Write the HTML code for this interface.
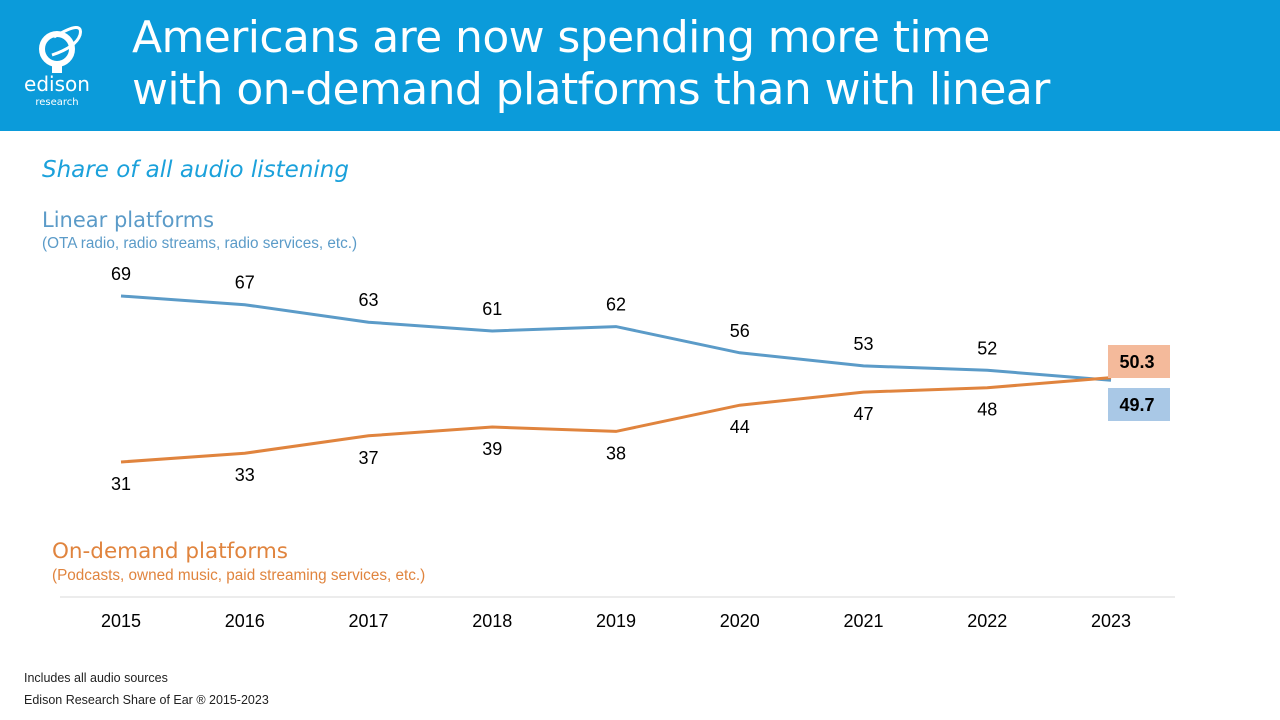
<!DOCTYPE html>
<html><head><meta charset="utf-8"><style>
body{margin:0;width:1280px;height:720px;background:#fff;font-family:"Liberation Sans",sans-serif;overflow:hidden;position:relative}
.hdr{position:absolute;left:0;top:0;width:1280px;height:131px;background:#0B9BDA}
.title{position:absolute;left:132px;top:12px;color:#fff;font-size:44px;line-height:52px;font-family:"DejaVu Sans","Liberation Sans",sans-serif;letter-spacing:-0.6px}
.t{position:absolute;white-space:nowrap}
</style></head><body>
<div class="hdr">
<svg style="position:absolute;left:22px;top:25px" width="80" height="85" viewBox="0 0 80 85">
<circle cx="35" cy="24" r="15" fill="none" stroke="#fff" stroke-width="6"/>
<path d="M32 12 Q62 -6 58 10 Q54 22 30 30" fill="none" stroke="#fff" stroke-width="3"/>
<rect x="30" y="40" width="10" height="8" fill="#fff"/>
<text x="35" y="66" fill="#fff" font-size="20" text-anchor="middle" font-family="DejaVu Sans,sans-serif">edison</text>
<text x="35" y="80" fill="#fff" font-size="10" text-anchor="middle" font-family="DejaVu Sans,sans-serif">research</text>
</svg>
<div class="title">Americans are now spending more time<br>with on-demand platforms than with linear</div>
</div>
<div class="t" style="left:42px;top:157px;font-size:23px;font-style:italic;color:#1BA1DB;font-family:'DejaVu Sans',sans-serif">Share of all audio listening</div>
<div class="t" style="left:42px;top:208px;font-size:21px;color:#5B9BC8;font-family:'DejaVu Sans',sans-serif">Linear platforms</div>
<div class="t" style="left:42px;top:235px;font-size:15.3px;color:#5B9BC8">(OTA radio, radio streams, radio services, etc.)</div>
<div class="t" style="left:52px;top:539px;font-size:21.5px;color:#E0843E;font-family:'DejaVu Sans',sans-serif">On-demand platforms</div>
<div class="t" style="left:52px;top:567px;font-size:15.3px;color:#E0843E">(Podcasts, owned music, paid streaming services, etc.)</div>
<div class="t" style="left:24px;top:671px;font-size:12.5px;color:#222">Includes all audio sources</div>
<div class="t" style="left:24px;top:693px;font-size:12.5px;color:#222">Edison Research Share of Ear ® 2015-2023</div>
<svg id="chart" style="position:absolute;left:0;top:0" width="1280" height="720"></svg>
<script>
const years=["2015","2016","2017","2018","2019","2020","2021","2022","2023"];
const linear=[69,67,63,61,62,56,53,52,49.7];
const ondemand=[31,33,37,39,38,44,47,48,50.3];
const svg=document.getElementById('chart');const NS='http://www.w3.org/2000/svg';
const x=i=>121+i*123.75;const y=v=>296+(69-v)*4.368;
function el(t,a,p){const e=document.createElementNS(NS,t);for(const k in a)e.setAttribute(k,a[k]);(p||svg).appendChild(e);return e;}
const ax=el('line',{x1:60,x2:1175,y1:597,y2:597,stroke:'#d9d9d9','stroke-width':1});


years.forEach((yr,i)=>{const t=el('text',{x:x(i),y:627,'text-anchor':'middle','font-size':18,fill:'#000','font-family':'Liberation Sans'});t.textContent=yr;

});
function series(vals,color,name,off){
const p=el('polyline',{points:vals.map((v,i)=>x(i)+','+y(v)).join(' '),fill:'none',stroke:color,'stroke-width':3});


vals.forEach((v,i)=>{if(i==vals.length-1)return;const t=el('text',{x:x(i),y:y(v)+off,'text-anchor':'middle','font-size':18,fill:'#000','font-family':'Liberation Sans'});t.textContent=v;

});}
series(linear,'#5B9BC8','linear',-16);
series(ondemand,'#E0843E','ondemand',28);
function box(v,yy,fill,name){const r=el('rect',{x:1108,y:yy,width:62,height:33,fill:fill});


const t=el('text',{x:1137,y:yy+23,'text-anchor':'middle','font-size':18,'font-weight':'bold',fill:'#000','font-family':'Liberation Sans'});t.textContent=v;

}
box(ondemand[8],345,'#F4BA9B','ondemand');
box(linear[8],388,'#A9C8E6','linear');
</script>
</body></html>
